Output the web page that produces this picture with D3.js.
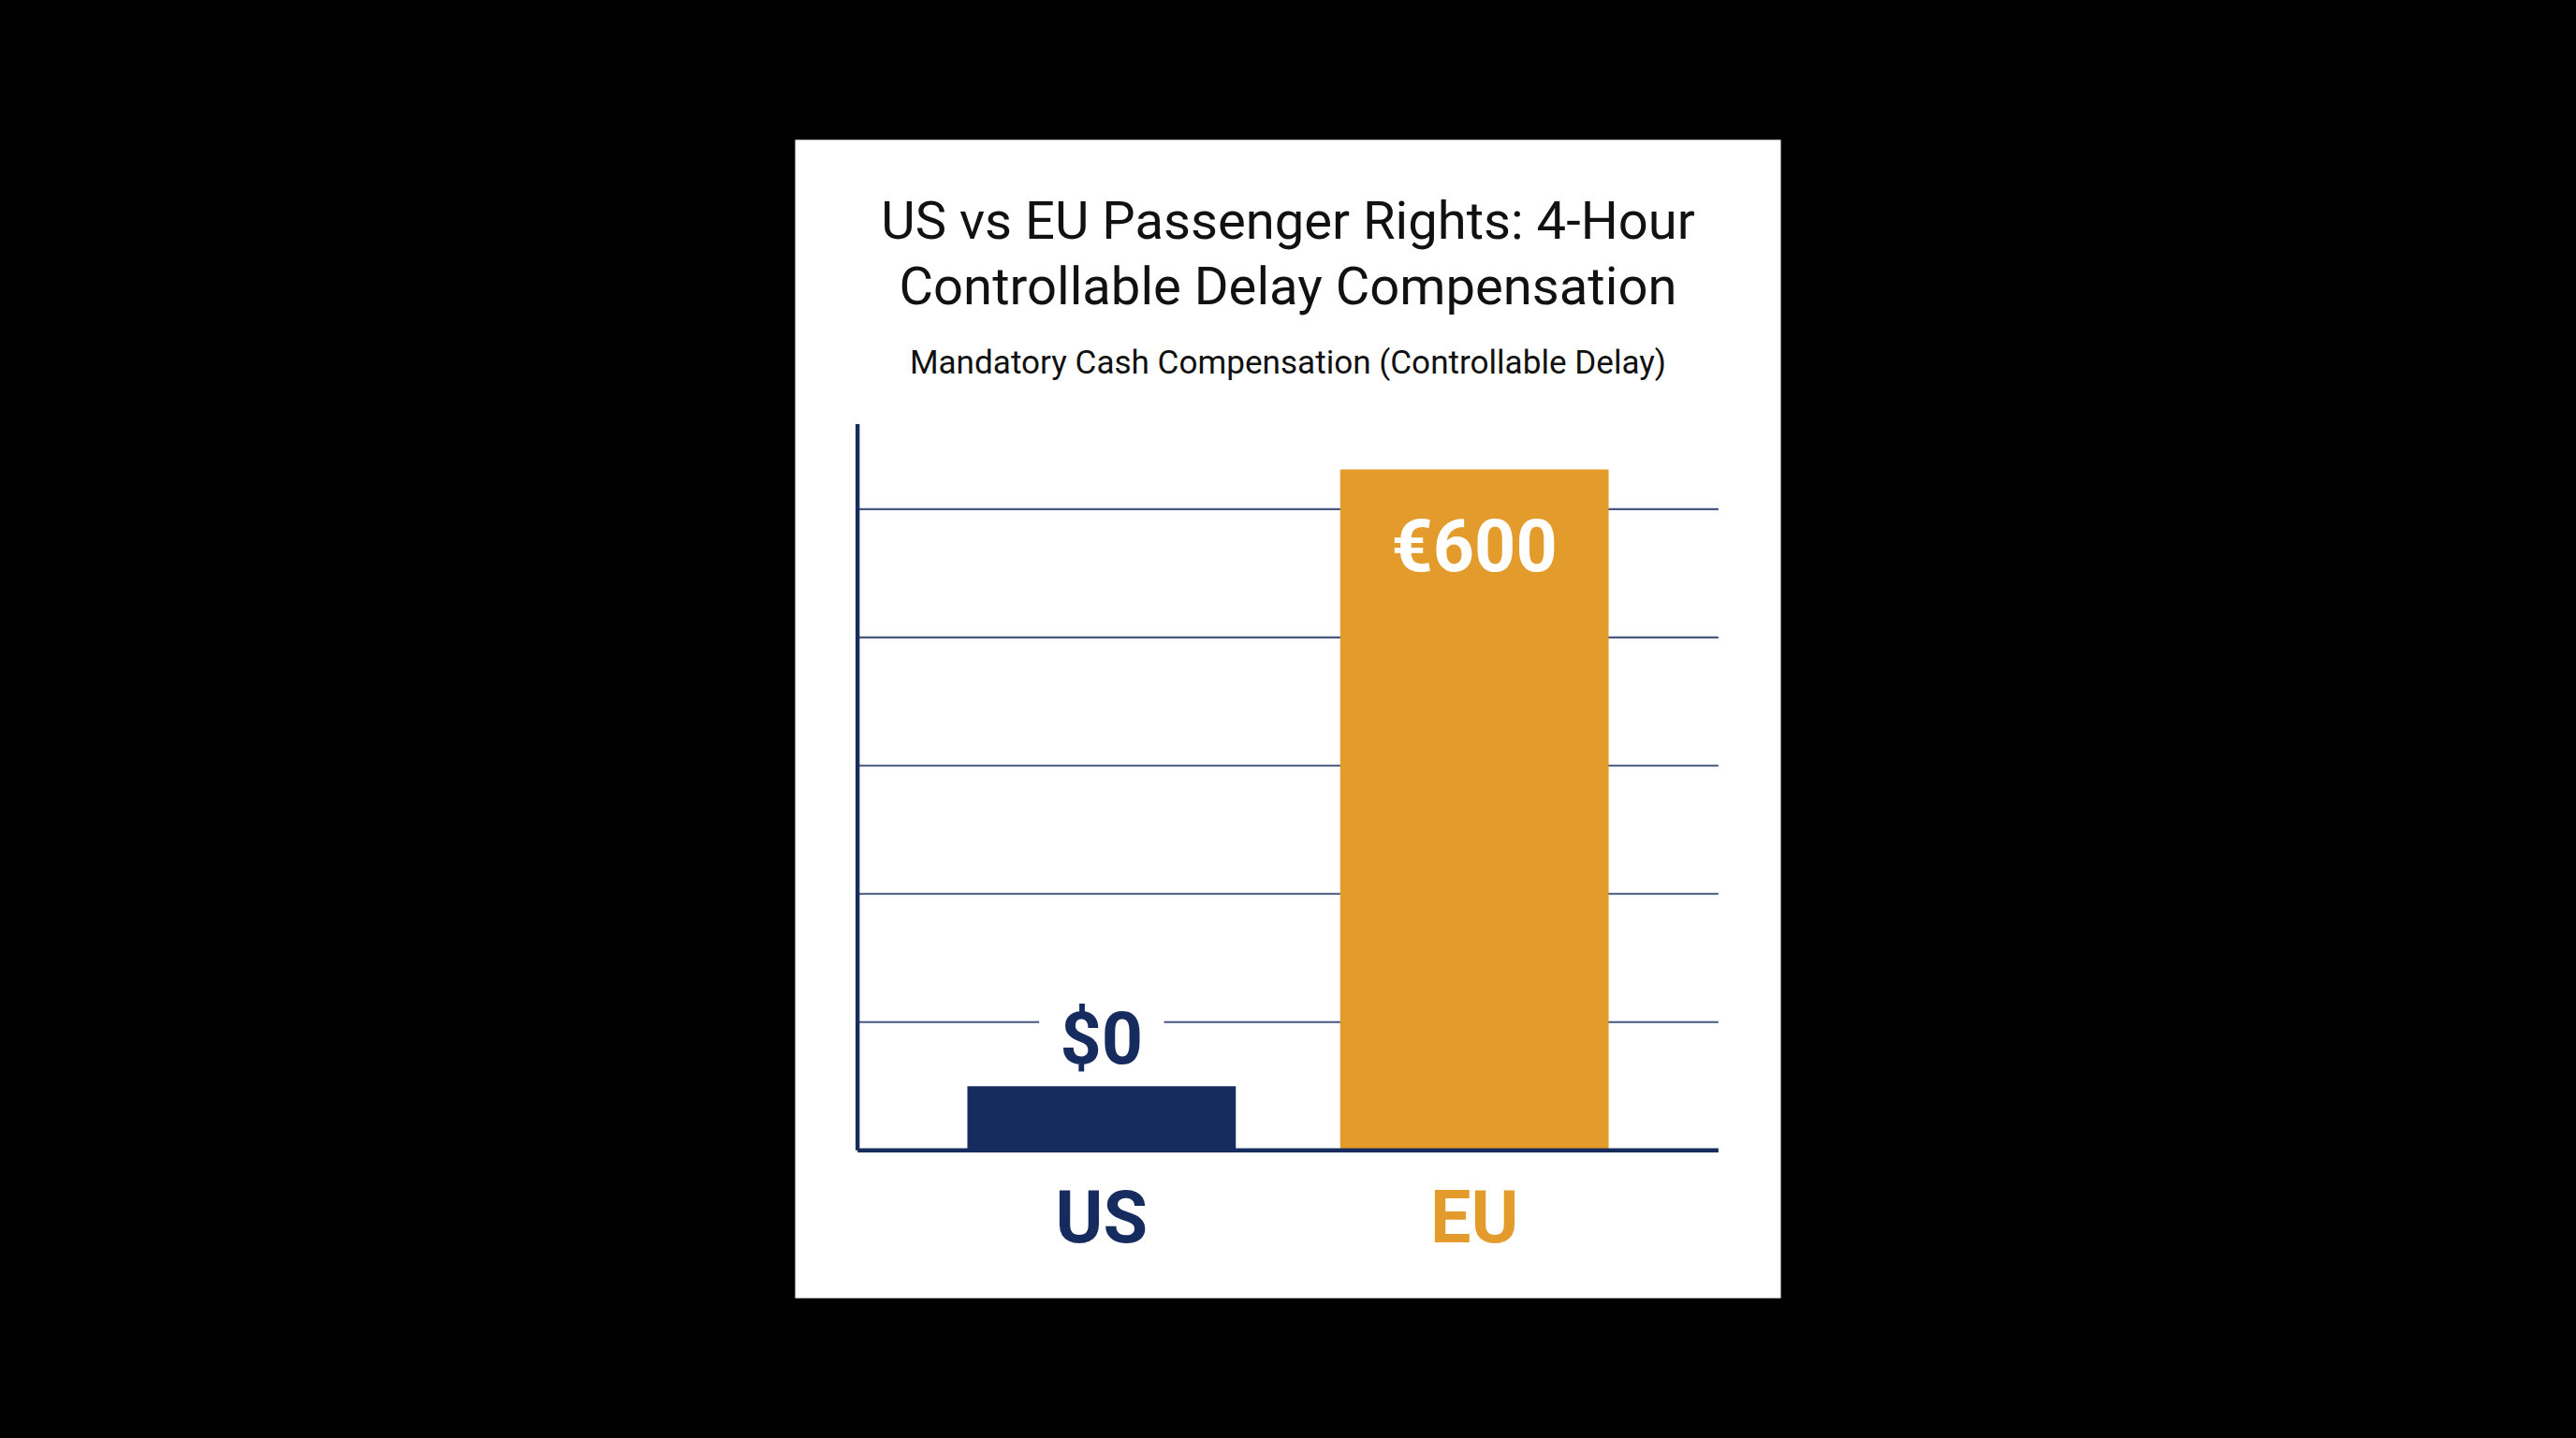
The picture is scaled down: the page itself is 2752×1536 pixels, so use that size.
<!DOCTYPE html>
<html><head><meta charset="utf-8">
<script src="https://cdn.jsdelivr.net/npm/d3@7"></script>
<style>html,body{margin:0;background:#000;overflow:hidden}</style>
</head><body>
<script>
const categories = ["US", "EU"];
const values = [0, 600];
const valueLabels = ["$0", "€600"];
const titleLines = ["US vs EU Passenger Rights: 4-Hour", "Controllable Delay Compensation"];
const subtitle = "Mandatory Cash Compensation (Controllable Delay)";
const gridValues = [113, 226, 339, 452, 565];
const yMax = 640;

const navy = "#172c5e", orange = "#e39b2c";
const colors = [navy, orange];

const svg = d3.select("body").append("svg")
  .attr("width", 2752).attr("height", 1536)
  .attr("viewBox", "0 0 1568 875");
svg.append("rect").attr("width", 1568).attr("height", 875).attr("fill", "#000");
svg.append("rect").attr("x", 484).attr("y", 85).attr("width", 600).attr("height", 705).attr("fill", "#fff");

const font = "Roboto, 'Noto Sans', sans-serif";
svg.selectAll(".t").data(titleLines).enter().append("text")
  .attr("x", 784).attr("y", (d, i) => 145 + i * 40).attr("text-anchor", "middle")
  .attr("font-family", font).attr("font-size", 32).attr("fill", "#111").text(d => d);
svg.append("text").attr("x", 784).attr("y", 227).attr("text-anchor", "middle")
  .attr("font-family", font).attr("font-size", 20).attr("fill", "#111").text(subtitle);

const pLeft = 522, pRight = 1046, pTop = 258, pBottom = 700;
const x = d3.scaleBand().domain(categories).range([pLeft + 26, pRight - 26]).paddingInner(0.28).paddingOuter(0.18);
const y = d3.scaleLinear().domain([0, yMax]).range([pBottom, pTop]);
const minH = 39;

svg.selectAll(".g").data(gridValues).enter().append("line")
  .attr("x1", pLeft).attr("x2", pRight).attr("y1", d => y(d)).attr("y2", d => y(d))
  .attr("stroke", "#4a5880").attr("stroke-width", 1.2);

svg.selectAll(".b").data(values).enter().append("rect")
  .attr("x", (d, i) => x(categories[i])).attr("width", x.bandwidth())
  .attr("y", d => Math.min(y(d), pBottom - minH))
  .attr("height", d => Math.max(pBottom - y(d), minH))
  .attr("fill", (d, i) => colors[i]);

values.forEach((v, i) => {
  const cx = x(categories[i]) + x.bandwidth() / 2;
  const inside = v > yMax / 2;
  const ty = inside ? y(v) + 62 : Math.min(y(v), pBottom - minH) - 14;
  if (!inside) {
    svg.append("rect").attr("x", cx - 38).attr("y", ty - 36).attr("width", 76).attr("height", 44).attr("fill", "#fff");
  }
  svg.append("text").attr("x", cx).attr("y", ty).attr("text-anchor", "middle")
    .attr("font-family", font).attr("font-weight", 700).attr("font-size", 44)
    .attr("fill", inside ? "#fff" : navy).text(valueLabels[i]);
  svg.append("text").attr("x", cx).attr("y", 756).attr("text-anchor", "middle")
    .attr("font-family", font).attr("font-weight", 700).attr("font-size", 44)
    .attr("fill", colors[i]).text(categories[i]);
});

svg.append("line").attr("x1", pLeft).attr("x2", pLeft).attr("y1", pTop).attr("y2", pBottom)
  .attr("stroke", navy).attr("stroke-width", 2.5);
svg.append("line").attr("x1", pLeft).attr("x2", pRight).attr("y1", pBottom).attr("y2", pBottom)
  .attr("stroke", navy).attr("stroke-width", 2.5);
</script>
</body></html>
